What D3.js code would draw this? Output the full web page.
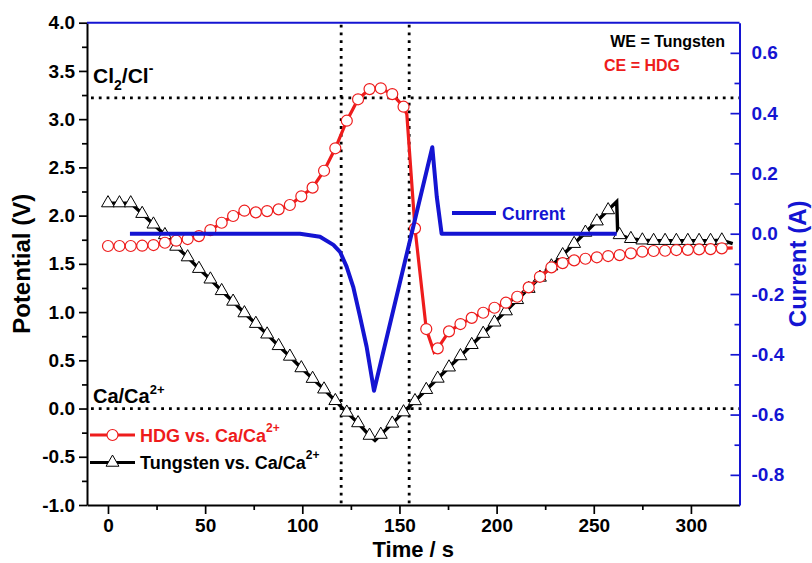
<!DOCTYPE html>
<html>
<head>
<meta charset="utf-8">
<script src="https://cdn.jsdelivr.net/npm/d3@7"></script>
<style>
  body { margin: 0; background: #fff; }
  svg text { font-family: Arial, "Liberation Sans", sans-serif; font-weight: bold; }
</style>
</head>
<body>
<svg id="chart" width="812" height="563"></svg>
<script>
// time grid shared by both symbol series (s)
var timeS = [0, 5.9, 11.7, 17.6, 23.4, 29.3, 35.1, 41, 46.8, 52.7, 58.5, 64.4, 70.2, 76.1, 81.9,
  87.8, 93.6, 99.5, 105.3, 111.2, 117, 122.9, 128.7, 134.6, 140.4, 146.3, 152.1, 158, 163.8,
  169.7, 175.5, 181.4, 187.2, 193.1, 198.9, 204.8, 210.6, 216.5, 222.3, 228.2, 234, 239.9,
  245.7, 251.6, 257.4, 263.3, 269.1, 275, 280.8, 286.7, 292.5, 298.4, 304.2, 310.1, 315.9];

// HDG vs. Ca/Ca2+ (V)
var hdgV = [1.685, 1.685, 1.685, 1.688, 1.695, 1.719, 1.740, 1.757, 1.788, 1.850,
  1.926, 1.996, 2.051, 2.034, 2.047, 2.065, 2.110, 2.200, 2.290, 2.465,
  2.698, 2.984, 3.206, 3.312, 3.320, 3.260, 3.129, 1.868, 0.824, 0.624,
  0.800, 0.876, 0.940, 0.993, 1.045, 1.097, 1.159, 1.256, 1.366, 1.464,
  1.508, 1.536, 1.553, 1.568, 1.581, 1.591, 1.609, 1.626, 1.633, 1.636,
  1.643, 1.645, 1.650, 1.653, 1.661];
// extra points of the HDG line between symbols
var hdgLineT = [153.8, 167.8, 321.5];
var hdgLineV = [3.05, 0.585, 1.665];

// Tungsten vs. Ca/Ca2+ (V)
var tungV = [2.13, 2.13, 2.13, 2.02, 1.91, 1.80, 1.68, 1.57, 1.45, 1.34,
  1.22, 1.11, 0.99, 0.88, 0.77, 0.65, 0.54, 0.42, 0.31, 0.20,
  0.08, -0.04, -0.15, -0.28, -0.27, -0.154, -0.037, 0.079, 0.195, 0.312,
  0.428, 0.545, 0.661, 0.777, 0.894, 1.010, 1.127, 1.243, 1.359, 1.476,
  1.592, 1.709, 1.825, 1.942, 2.058, 1.80, 1.76, 1.745, 1.74, 1.74,
  1.74, 1.74, 1.74, 1.74, 1.745];
var tungLineT = [137.4, 261.8, 262.3, 321.5];
var tungLineV = [-0.33, 2.145, 1.83, 1.71];

// Current (A)
var curT = [11.3, 98.8, 109.1, 116, 119.4, 122.8, 126.2, 129.7, 133.1, 136.9, 166.9, 169.2, 171.7, 261.8];
var curI = [0, 0, -0.01, -0.037, -0.06, -0.109, -0.176, -0.275, -0.375, -0.521, 0.287, 0.123, 0, 0];

// reference lines
var refTimes = [120, 155];
var refPots = [3.22, 0];

// ticks
var timeTicks = [0, 50, 100, 150, 200, 250, 300];
var timeMinor = [25, 75, 125, 175, 225, 275];
var potTicks = [-1, -0.5, 0, 0.5, 1, 1.5, 2, 2.5, 3, 3.5, 4];
var potMinor = [-0.75, -0.25, 0.25, 0.75, 1.25, 1.75, 2.25, 2.75, 3.25, 3.75];
var curTicks = [-0.8, -0.6, -0.4, -0.2, 0, 0.2, 0.4, 0.6];
var curMinor = [-0.7, -0.5, -0.3, -0.1, 0.1, 0.3, 0.5];

var RED = "#ee1c1c", BLUE = "#1414d2", BLACK = "#000";
var pL = 87, pR = 739.5, pT = 22.7, pB = 505;

var svg = d3.select("#chart");
var x = d3.scaleLinear().domain([-10.8, 325]).range([pL, pR]);
var yP = d3.scaleLinear().domain([-1, 4]).range([pB, pT]);
var yC = d3.scaleLinear().domain([-0.9, 0.7]).range([pB, pT]);
var fmt = function(d){ return d.toFixed(1); };

function styleAxis(g, color, size){
  g.attr("font-family", null).attr("font-size", null);
  g.select(".domain").attr("stroke", color).attr("stroke-width", 2);
  g.selectAll(".tick line").attr("stroke", color).attr("stroke-width", 1.7);
  g.selectAll(".tick text").attr("fill", color).style("font-size", size + "px");
}

// dotted reference lines
svg.selectAll(".vref").data(refTimes).enter().append("line")
  .attr("x1", function(d){ return x(d); }).attr("x2", function(d){ return x(d); })
  .attr("y1", pT + 2).attr("y2", pB)
  .attr("stroke", BLACK).attr("stroke-width", 2.8).attr("stroke-dasharray", "2.8,5");
svg.selectAll(".href").data(refPots).enter().append("line")
  .attr("x1", pL + 4).attr("x2", pR)
  .attr("y1", function(d){ return yP(d); }).attr("y2", function(d){ return yP(d); })
  .attr("stroke", BLACK).attr("stroke-width", 2.8).attr("stroke-dasharray", "2.8,5");

// axes
var gx = svg.append("g").attr("transform", "translate(0," + pB + ")")
  .call(d3.axisBottom(x).tickValues(timeTicks).tickFormat(d3.format("d")).tickSize(9).tickSizeOuter(0).tickPadding(5));
styleAxis(gx, BLACK, 19);
var gxm = svg.append("g").attr("transform", "translate(0," + pB + ")")
  .call(d3.axisBottom(x).tickValues(timeMinor).tickFormat("").tickSize(5));
gxm.select(".domain").remove();
gxm.selectAll(".tick line").attr("stroke", BLACK).attr("stroke-width", 1.7);

var gy = svg.append("g").attr("transform", "translate(" + pL + ",0)")
  .call(d3.axisLeft(yP).tickValues(potTicks).tickFormat(fmt).tickSize(8).tickSizeOuter(0).tickPadding(4));
styleAxis(gy, BLACK, 19);
var gym = svg.append("g").attr("transform", "translate(" + pL + ",0)")
  .call(d3.axisLeft(yP).tickValues(potMinor).tickFormat("").tickSize(5));
gym.select(".domain").remove();
gym.selectAll(".tick line").attr("stroke", BLACK).attr("stroke-width", 1.7);

var gr = svg.append("g").attr("transform", "translate(" + pR + ",0)")
  .call(d3.axisRight(yC).tickValues(curTicks).tickFormat(fmt).tickSizeInner(-9).tickSizeOuter(0).tickPadding(12));
styleAxis(gr, BLUE, 19);
var grm = svg.append("g").attr("transform", "translate(" + pR + ",0)")
  .call(d3.axisRight(yC).tickValues(curMinor).tickFormat("").tickSizeInner(-5).tickSizeOuter(0));
grm.select(".domain").remove();
grm.selectAll(".tick line").attr("stroke", BLUE).attr("stroke-width", 1.7);

svg.append("line").attr("x1", pL).attr("x2", pR).attr("y1", pT).attr("y2", pT)
  .attr("stroke", BLUE).attr("stroke-width", 2);

// series
function merge(ts, vs, extraT, extraV){
  var pts = ts.map(function(t, i){ return [t, vs[i]]; });
  extraT.forEach(function(t, i){ pts.push([t, extraV[i]]); });
  return pts.sort(function(a, b){ return a[0] - b[0]; });
}
var lineP = d3.line().x(function(d){ return x(d[0]); }).y(function(d){ return yP(d[1]); });
var lineC = d3.line().x(function(d){ return x(d[0]); }).y(function(d){ return yC(d[1]); });

svg.append("path").datum(merge(timeS, tungV, tungLineT, tungLineV))
  .attr("d", lineP).attr("fill", "none").attr("stroke", BLACK).attr("stroke-width", 3.4);
svg.append("path").datum(merge(timeS, hdgV, hdgLineT, hdgLineV))
  .attr("d", lineP).attr("fill", "none").attr("stroke", RED).attr("stroke-width", 3.2);

var tri = d3.symbol().type(d3.symbolTriangle).size(72);
svg.selectAll(".tri").data(timeS).enter().append("path")
  .attr("d", tri)
  .attr("transform", function(d, i){ return "translate(" + x(d) + "," + yP(tungV[i]) + ")"; })
  .attr("fill", "#fff").attr("stroke", BLACK).attr("stroke-width", 1);
svg.selectAll(".circ").data(timeS).enter().append("circle")
  .attr("cx", function(d){ return x(d); })
  .attr("cy", function(d, i){ return yP(hdgV[i]); })
  .attr("r", 5.5).attr("fill", "#fff").attr("stroke", RED).attr("stroke-width", 1.2);

svg.append("path").datum(curT.map(function(t, i){ return [t, curI[i]]; }))
  .attr("d", lineC).attr("fill", "none").attr("stroke", BLUE).attr("stroke-width", 4)
  .attr("stroke-linejoin", "round");

// titles
svg.append("text").attr("x", (pL + pR) / 2).attr("y", 557).attr("text-anchor", "middle")
  .style("font-size", "22px").text("Time / s");
svg.append("text").attr("transform", "translate(30," + ((pT + pB) / 2) + ") rotate(-90)")
  .attr("text-anchor", "middle").style("font-size", "24px").text("Potential (V)");
svg.append("text").attr("transform", "translate(806," + ((pT + pB) / 2) + ") rotate(-90)")
  .attr("text-anchor", "middle").attr("fill", BLUE).style("font-size", "24px").text("Current (A)");

// annotations
var cl = svg.append("text").attr("x", 93).attr("y", 83).style("font-size", "21px");
cl.append("tspan").text("Cl");
cl.append("tspan").attr("dy", 7).style("font-size", "14px").text("2");
cl.append("tspan").attr("dy", -7).text("/Cl");
cl.append("tspan").attr("dy", -10).style("font-size", "14px").text("-");

var ca = svg.append("text").attr("x", 93).attr("y", 403).style("font-size", "20px");
ca.append("tspan").text("Ca/Ca");
ca.append("tspan").attr("dy", -9).style("font-size", "13px").text("2+");

svg.append("text").attr("x", 725).attr("y", 47).attr("text-anchor", "end")
  .style("font-size", "16px").text("WE = Tungsten");
svg.append("text").attr("x", 680).attr("y", 71).attr("text-anchor", "end")
  .attr("fill", RED).style("font-size", "16px").text("CE = HDG");

// legends
var legItems = [
  { label: "HDG vs. Ca/Ca", color: RED, sym: "circle", y: 435 },
  { label: "Tungsten vs. Ca/Ca", color: BLACK, sym: "tri", y: 462.5 }
];
legItems.forEach(function(it){
  svg.append("line").attr("x1", 90).attr("x2", 135).attr("y1", it.y).attr("y2", it.y)
    .attr("stroke", it.color).attr("stroke-width", 3.2);
  if (it.sym === "circle") {
    svg.append("circle").attr("cx", 112.5).attr("cy", it.y).attr("r", 5.5)
      .attr("fill", "#fff").attr("stroke", it.color).attr("stroke-width", 1.2);
  } else {
    svg.append("path").attr("d", tri).attr("transform", "translate(112.5," + it.y + ")")
      .attr("fill", "#fff").attr("stroke", it.color).attr("stroke-width", 1);
  }
  var t = svg.append("text").attr("x", 140).attr("y", it.y + 6.5).attr("fill", it.color)
    .style("font-size", "18px");
  t.append("tspan").text(it.label);
  t.append("tspan").attr("dy", -10).style("font-size", "12px").text("2+");
});

svg.append("line").attr("x1", 452).attr("x2", 496).attr("y1", 213).attr("y2", 213)
  .attr("stroke", BLUE).attr("stroke-width", 4);
svg.append("text").attr("x", 502).attr("y", 219.5).attr("fill", BLUE)
  .style("font-size", "17.5px").text("Current");
</script>
</body>
</html>
